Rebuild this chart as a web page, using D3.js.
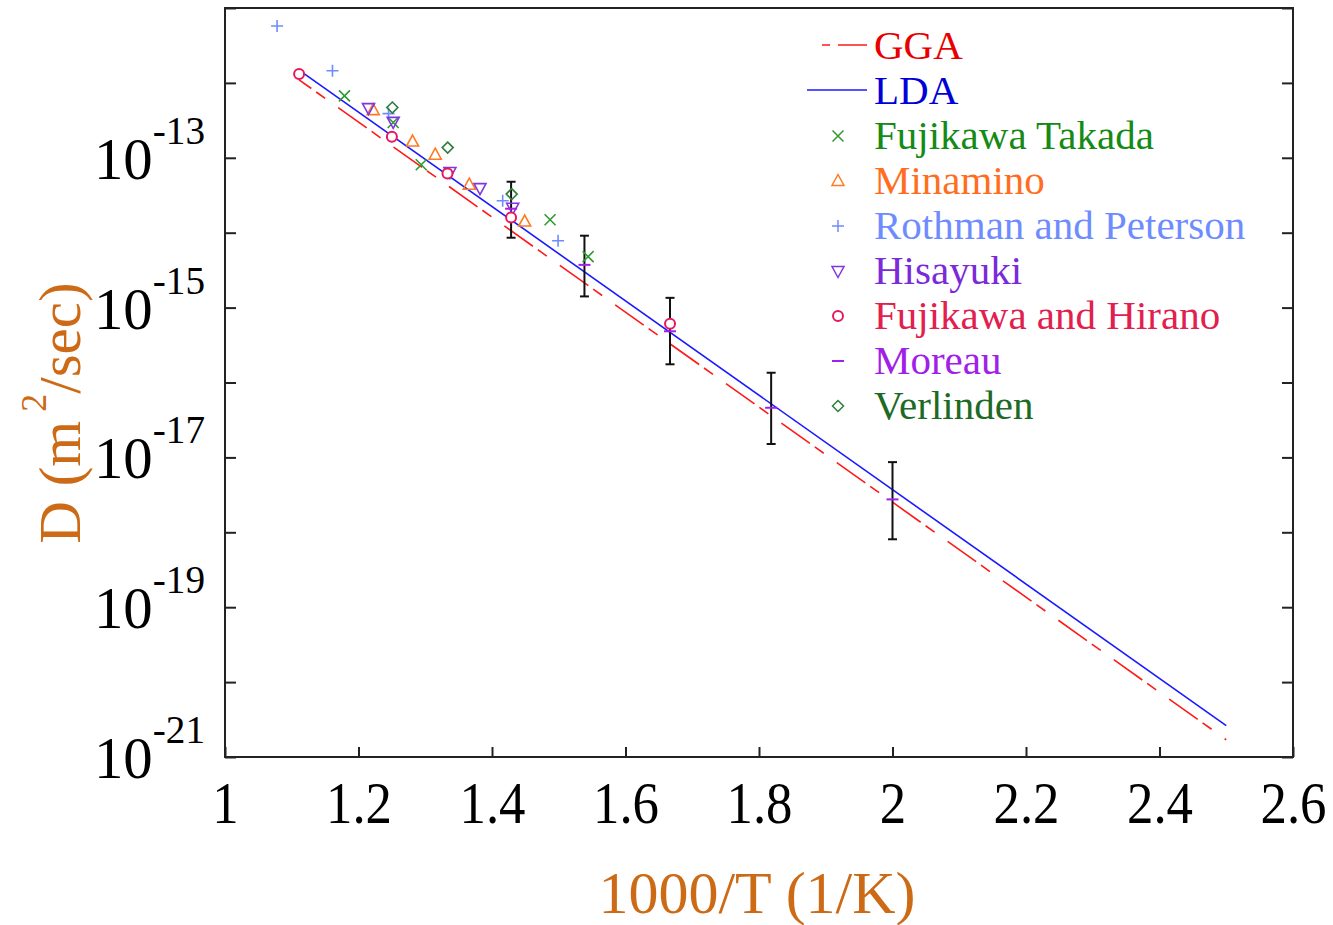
<!DOCTYPE html>
<html>
<head>
<meta charset="utf-8">
<script src="https://cdn.jsdelivr.net/npm/d3@7"></script>
<style>
  body { margin: 0; background: #fff; }
  text { font-family: "Liberation Serif", "Times New Roman", serif; }
</style>
</head>
<body>
<svg id="chart" width="1333" height="925"></svg>
<script>
// ---- data (1000/T in 1/K, D in m^2/s) ----
const xTicks = [1, 1.2, 1.4, 1.6, 1.8, 2, 2.2, 2.4, 2.6];
const yDecades = [1e-21, 1e-20, 1e-19, 1e-18, 1e-17, 1e-16, 1e-15, 1e-14, 1e-13, 1e-12, 1e-11];
const yLabelExp = [-21, -19, -17, -15, -13];

const ggaX = [1.111, 2.5];
const ggaD = [1.10e-12, 1.70e-21];
const ldaX = [1.111, 2.5];
const ldaD = [1.48e-12, 2.63e-21];

const takadaX = [1.179, 1.252, 1.294, 1.487, 1.544];
const takadaD = [6.71e-13, 2.96e-13, 8.07e-14, 1.49e-14, 4.79e-15];

const minaminoX = [1.222, 1.281, 1.315, 1.366, 1.449];
const minaminoD = [4.33e-13, 1.65e-13, 1.10e-13, 4.37e-14, 1.41e-14];

const rothmanX = [1.078, 1.161, 1.245, 1.416, 1.499];
const rothmanD = [5.75e-12, 1.45e-12, 3.89e-13, 2.67e-14, 7.82e-15];

const hisayukiX = [1.215, 1.252, 1.337, 1.382, 1.431];
const hisayukiD = [4.60e-13, 3.02e-13, 6.46e-14, 3.94e-14, 2.15e-14];

const hiranoX = [1.111, 1.25, 1.3333, 1.4286, 1.6667];
const hiranoD = [1.31e-12, 1.91e-13, 6.18e-14, 1.60e-14, 6.07e-16];

const moreauX = [1.4286, 1.5385, 1.6667, 1.8182, 2.0];
const moreauD = [2.09e-14, 3.72e-15, 4.83e-16, 4.60e-17, 2.75e-18];
const moreauHi = [4.79e-14, 9.12e-15, 1.35e-15, 1.35e-16, 8.65e-18];
const moreauLo = [8.57e-15, 1.41e-15, 1.75e-16, 1.51e-17, 8.07e-19];

const verlindenX = [1.2507, 1.3336, 1.4295];
const verlindenD = [4.69e-13, 1.37e-13, 3.28e-14];

// ---- styles ----
const lines = [
  { name: "GGA", x: ggaX, d: ggaD, color: "#ff1a1a", dash: "35,6,11,16", offset: 20, text: "#e80000" },
  { name: "LDA", x: ldaX, d: ldaD, color: "#1a1aff", dash: null, offset: 0, text: "#0000d8" }
];
const series = [
  { name: "Fujikawa Takada", x: takadaX, d: takadaD, shape: "x", color: "#2f9a2f", text: "#168a16" },
  { name: "Minamino", x: minaminoX, d: minaminoD, shape: "triUp", color: "#ff7a22", text: "#ff6e1e" },
  { name: "Rothman and Peterson", x: rothmanX, d: rothmanD, shape: "plus", color: "#6f8cff", text: "#6f8cff" },
  { name: "Hisayuki", x: hisayukiX, d: hisayukiD, shape: "triDown", color: "#7f35e0", text: "#7a2ad8" },
  { name: "Fujikawa and Hirano", x: hiranoX, d: hiranoD, shape: "circle", color: "#e8185a", text: "#e2204e" },
  { name: "Moreau", x: moreauX, d: moreauD, shape: "dash", color: "#a020f0", text: "#a020e8" },
  { name: "Verlinden", x: verlindenX, d: verlindenD, shape: "diamond", color: "#2e7d3a", text: "#1c6a24" }
];

const svg = d3.select("#chart");
const pLeft = 225, pRight = 1293, pTop = 8, pBottom = 757;

const x = d3.scaleLinear().domain([1, 2.6]).range([pLeft, pRight]);
const y = d3.scaleLog().domain([1e-21, 1e-11]).range([pBottom, pTop]);

svg.append("rect").attr("width", 1333).attr("height", 925).attr("fill", "#fff");

// axes with inward ticks
const xAxis = svg.append("g")
  .attr("transform", `translate(0,${pBottom})`)
  .call(d3.axisBottom(x).tickValues(xTicks).tickSizeInner(-10).tickSizeOuter(0).tickFormat(d3.format("~g")));
xAxis.select(".domain").remove();
xAxis.selectAll("line").attr("stroke", "#222").attr("stroke-width", 2);
xAxis.selectAll("text")
  .attr("y", 66).attr("dy", 0)
  .attr("transform", "scale(0.88,1)")
  .attr("font-size", 60).attr("fill", "#000")
  .style("font-family", "'Liberation Serif', serif");

const yAxisL = svg.append("g")
  .attr("transform", `translate(${pLeft},0)`)
  .call(d3.axisLeft(y).tickValues(yDecades).tickSizeInner(-11).tickSizeOuter(0).tickFormat(""));
const yAxisR = svg.append("g")
  .attr("transform", `translate(${pRight},0)`)
  .call(d3.axisRight(y).tickValues(yDecades).tickSizeInner(-11).tickSizeOuter(0).tickFormat(""));
[yAxisL, yAxisR].forEach(g => {
  g.select(".domain").remove();
  g.selectAll("line").attr("stroke", "#222").attr("stroke-width", 2);
});

// y tick labels 10^n
const yl = svg.append("g").selectAll("text")
  .data(yLabelExp)
  .join("text")
  .attr("transform", d => `translate(205,${y(Math.pow(10, d)) + 21}) scale(0.98,1)`)
  .attr("text-anchor", "end")
  .attr("fill", "#000");
yl.append("tspan").attr("font-size", 60).text("10");
yl.append("tspan").attr("font-size", 40).attr("dy", -35).text(d => "-" + Math.abs(d));

// frame
svg.append("rect")
  .attr("x", pLeft).attr("y", pTop)
  .attr("width", pRight - pLeft).attr("height", pBottom - pTop)
  .attr("fill", "none").attr("stroke", "#222").attr("stroke-width", 2);

// axis titles
svg.append("text")
  .attr("x", 757).attr("y", 913)
  .attr("text-anchor", "middle")
  .attr("font-size", 60).attr("fill", "#cd6a15")
  .text("1000/T (1/K)");

const yt = svg.append("text")
  .attr("transform", "translate(80,413) rotate(-90)")
  .attr("text-anchor", "middle")
  .attr("font-size", 59).attr("fill", "#cd6a15");
yt.append("tspan").text("D (m");
yt.append("tspan").attr("font-size", 36).attr("dy", -34).text(" 2");
yt.append("tspan").attr("dy", 34).text("/sec)");

// model lines
const lineGen = d3.line().x(p => x(p[0])).y(p => y(p[1]));
lines.forEach(l => {
  svg.append("path")
    .attr("d", lineGen(l.x.map((v, i) => [v, l.d[i]])))
    .attr("fill", "none")
    .attr("stroke", l.color)
    .attr("stroke-width", 1.6)
    .attr("stroke-dasharray", l.dash)
    .attr("stroke-dashoffset", l.offset);
});

// error bars on Moreau points
const eb = svg.append("g").attr("stroke", "#111").attr("stroke-width", 2);
moreauX.forEach((v, i) => {
  const cx = x(v), y0 = y(moreauHi[i]), y1 = y(moreauLo[i]);
  eb.append("line").attr("x1", cx).attr("x2", cx).attr("y1", y0).attr("y2", y1);
  eb.append("line").attr("x1", cx - 4.5).attr("x2", cx + 4.5).attr("y1", y0).attr("y2", y0);
  eb.append("line").attr("x1", cx - 4.5).attr("x2", cx + 4.5).attr("y1", y1).attr("y2", y1);
});

function markerPath(shape) {
  switch (shape) {
    case "x": return "M-5.5,-5.5L5.5,5.5M-5.5,5.5L5.5,-5.5";
    case "plus": return "M-6,0H6M0,-6V6";
    case "triUp": return "M0,-6.5L6,4.5L-6,4.5Z";
    case "triDown": return "M0,6.5L6,-4.5L-6,-4.5Z";
    case "circle": return "M5,0A5,5 0 1,1 -5,0A5,5 0 1,1 5,0Z";
    case "dash": return "M-6,0H6";
    case "diamond": return "M0,-5.5L5.5,0L0,5.5L-5.5,0Z";
  }
}

// data markers
series.forEach(s => {
  svg.append("g").selectAll("path")
    .data(s.x.map((v, i) => [v, s.d[i]]))
    .join("path")
    .attr("transform", p => `translate(${x(p[0])},${y(p[1])})`)
    .attr("d", markerPath(s.shape))
    .attr("fill", s.shape === "circle" ? "#fff" : "none")
    .attr("stroke", s.color)
    .attr("stroke-width", s.shape === "circle" || s.shape === "dash" ? 2 : 1.6);
});

// legend
const legend = svg.append("g");
const rowY = i => 59 + i * 45;
lines.forEach((l, i) => {
  const yy = rowY(i) - 14;
  legend.append("line")
    .attr("x1", l.dash ? 822 : 807).attr("x2", 867)
    .attr("y1", yy).attr("y2", yy)
    .attr("stroke", l.color).attr("stroke-width", 1.6)
    .attr("stroke-dasharray", l.dash ? "8,8,30" : null);
  legend.append("text")
    .attr("x", 874).attr("y", rowY(i))
    .attr("font-size", 41).attr("fill", l.text)
    .text(l.name);
});
series.forEach((s, j) => {
  const i = j + 2;
  legend.append("path")
    .attr("transform", `translate(838,${rowY(i) - 13})`)
    .attr("d", markerPath(s.shape))
    .attr("fill", "none")
    .attr("stroke", s.color)
    .attr("stroke-width", s.shape === "circle" || s.shape === "dash" ? 2 : 1.5);
  legend.append("text")
    .attr("x", 874).attr("y", rowY(i))
    .attr("font-size", 41).attr("fill", s.text)
    .text(s.name);
});
</script>
</body>
</html>
